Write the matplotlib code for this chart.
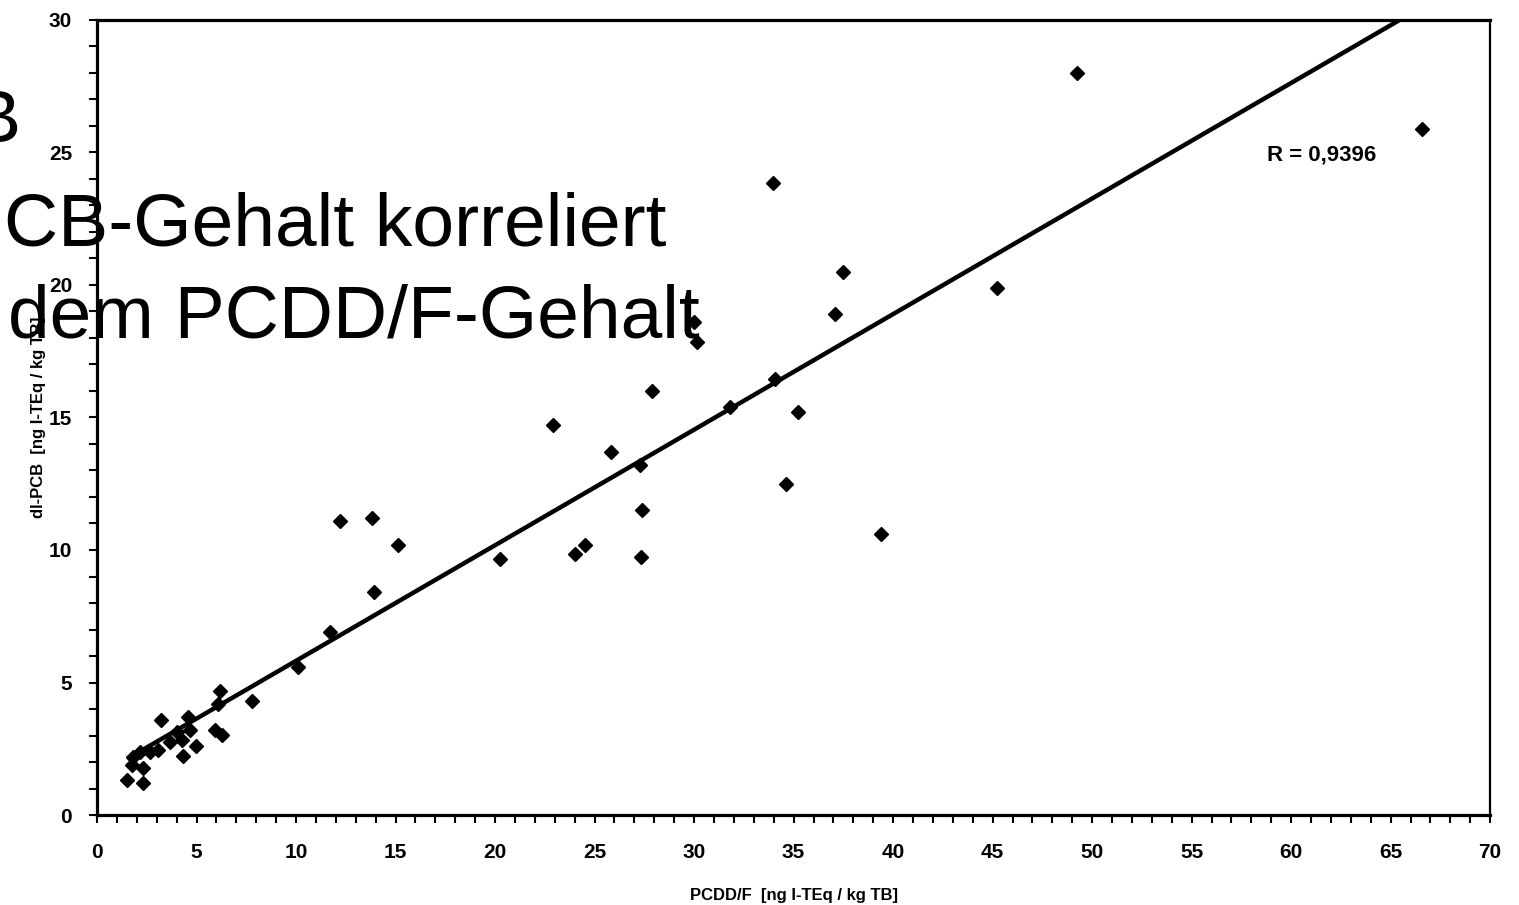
import numpy as np
import matplotlib
matplotlib.use("Agg")
import matplotlib.pyplot as plt
from matplotlib.ticker import MultipleLocator

plt.rcParams['font.family'] = ['Liberation Sans', 'DejaVu Sans']

# PCDD/F vs dl-PCB  [ng I-TEq / kg TB]
pcddf = [49.25, 66.6, 33.97, 37.5, 45.2, 37.1, 30.0, 30.15, 27.9, 34.07,
         31.8, 35.2, 22.9, 25.8, 27.3, 27.4, 34.6, 39.4, 27.35, 20.25,
         24.0, 24.5, 12.2, 13.8, 15.1, 13.9, 11.7, 10.1,
         7.8, 6.2, 6.1, 5.93, 6.28, 4.97, 4.57, 4.67, 4.02, 4.27,
         4.32, 3.67, 3.22, 3.07, 2.66, 2.16, 1.81, 1.76, 2.31, 1.51, 2.31]
dlpcb = [28.0, 25.9, 23.85, 20.5, 19.9, 18.9, 18.6, 17.85, 16.0, 16.45,
         15.4, 15.2, 14.7, 13.7, 13.2, 11.5, 12.5, 10.6, 9.74, 9.66,
         9.85, 10.2, 11.1, 11.2, 10.2, 8.4, 6.9, 5.6,
         4.3, 4.68, 4.19, 3.21, 3.02, 2.6, 3.7, 3.21, 3.13, 2.83,
         2.23, 2.75, 3.58, 2.45, 2.38, 2.38, 2.19, 1.89, 1.77, 1.32, 1.21]

# linear trend line
slope = 0.436
intercept = 1.46
r_text = "R = 0,9396"

fig = plt.figure(figsize=(15.19, 9.05), dpi=100)
ax = fig.add_axes([0.0639, 0.0994, 0.9171, 0.8786])

x = np.array(pcddf)
xs = np.array([x.min(), x.max()])
ax.plot(xs, slope * xs + intercept, color='black', lw=3.2, solid_capstyle='butt')
ax.plot(pcddf, dlpcb, 'D', color='black', markersize=7.5, ls='none')

ax.set_xlim(0, 70)
ax.set_ylim(0, 30)
ax.xaxis.set_major_locator(MultipleLocator(5))
ax.xaxis.set_minor_locator(MultipleLocator(1))
ax.yaxis.set_major_locator(MultipleLocator(5))
ax.yaxis.set_minor_locator(MultipleLocator(1))
ax.tick_params(which='both', direction='out', width=1.5, length=6)
ax.tick_params(axis='x', which='major', pad=14)
ax.tick_params(axis='y', which='major', pad=12)
for lab in ax.get_xticklabels() + ax.get_yticklabels():
    lab.set_fontsize(15)
    lab.set_fontweight('bold')

for s in ['left', 'bottom', 'top']:
    ax.spines[s].set_linewidth(2.3)
ax.spines['right'].set_linewidth(1.6)

ax.set_xlabel('PCDD/F  [ng I-TEq / kg TB]', fontsize=12, fontweight='bold', labelpad=19)
ax.set_ylabel('dl-PCB  [ng I-TEq / kg TB]', fontsize=12, fontweight='bold', labelpad=2)

ax.text(58.8, 24.9, r_text, fontsize=16, fontweight='bold', va='center', ha='left')

# overlaid slide text, cut off at the left edge
fig.text(-0.019, 1 - 142 / 905, 'B', fontsize=54, va='baseline', ha='left')
fig.text(-0.030, 1 - 246 / 905, 'PCB-Gehalt korreliert', fontsize=54, va='baseline', ha='left')
fig.text(0.005, 1 - 337 / 905, 'dem PCDD/F-Gehalt', fontsize=54, va='baseline', ha='left')

fig.savefig('out.png', dpi=100)
